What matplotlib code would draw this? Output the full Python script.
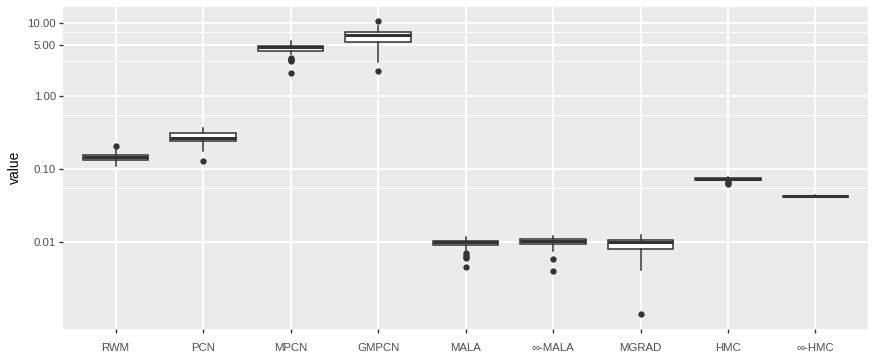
import numpy as np
import matplotlib
matplotlib.use("Agg")
import matplotlib.pyplot as plt

plt.rcParams['font.family'] = ['Liberation Sans', 'DejaVu Sans']

# -----------------------------
# DATA (box statistics)
# -----------------------------
methods = ["RWM", "PCN", "MPCN", "GMPCN", "MALA", "\u221e-MALA", "MGRAD", "HMC", "\u221e-HMC"]
whislo = [0.111, 0.173, 3.73, 2.92, 0.00777, 0.00753, 0.00405, 0.0700, 0.0410]
q1     = [0.134, 0.244, 4.18, 5.55, 0.00890, 0.00919, 0.00785, 0.0712, 0.0417]
median = [0.147, 0.266, 4.64, 6.92, 0.00991, 0.01040, 0.00977, 0.0725, 0.0423]
q3     = [0.154, 0.308, 4.80, 7.47, 0.01022, 0.01090, 0.01055, 0.0737, 0.0430]
whishi = [0.186, 0.365, 5.66, 9.10, 0.01170, 0.01210, 0.01247, 0.0770, 0.0437]
fliers = [
    [0.205],
    [0.127],
    [3.30, 3.20, 3.10, 3.00, 2.05],
    [10.5, 2.18],
    [0.0070, 0.0066, 0.0062, 0.0059, 0.0045],
    [0.0058, 0.00397],
    [0.00102],
    [0.0665, 0.0642, 0.0622],
    [],
]
y_breaks = [0.01, 0.1, 1, 5, 10]
y_labels = ["0.01", "0.10", "1.00", "5.00", "10.00"]
y_minor = [0.055, 0.55, 3.0, 7.5]

# -----------------------------
# PLOT
# -----------------------------
fig = plt.figure(figsize=(8.78, 3.55), dpi=100)
ax = fig.add_axes([0.0718, 0.0741, 0.9886 - 0.0718, 0.981 - 0.0741])
ax.set_facecolor('#EBEBEB')
for s in ax.spines.values():
    s.set_visible(False)

stats = []
for i in range(len(methods)):
    stats.append(dict(med=median[i], q1=q1[i], q3=q3[i],
                      whislo=whislo[i], whishi=whishi[i], fliers=fliers[i]))

pos = np.arange(1, len(methods) + 1)
ax.bxp(stats, positions=pos, widths=0.75, showcaps=False, patch_artist=True,
       boxprops=dict(facecolor='white', edgecolor='#333333', linewidth=1.1),
       whiskerprops=dict(color='#333333', linewidth=1.1),
       medianprops=dict(color='#333333', linewidth=2.2),
       flierprops=dict(marker='o', markerfacecolor='#333333', markeredgecolor='#333333',
                       markersize=3.5, linestyle='none'),
       zorder=3)

ax.set_yscale('log')
allv = np.concatenate([whislo, whishi] + [np.array(f) for f in fliers if len(f)])
lo, hi = np.log10(allv.min()), np.log10(allv.max())
pad = 0.05 * (hi - lo)
ax.set_ylim(10 ** (lo - pad), 10 ** (hi + pad))
ax.set_xlim(0.4, len(methods) + 0.6)

ax.set_yticks(y_breaks)
ax.set_yticklabels(y_labels)
ax.set_yticks(y_minor, minor=True)
ax.yaxis.set_minor_formatter(matplotlib.ticker.NullFormatter())
ax.set_xticks(pos)
ax.set_xticklabels(methods)

ax.grid(True, which='major', color='white', linewidth=1.4, zorder=0)
ax.grid(True, which='minor', axis='y', color='white', linewidth=0.7, zorder=0)
ax.set_axisbelow(True)

ax.tick_params(axis='both', which='major', length=3, width=1.0, color='#333333',
               labelcolor='#4D4D4D', labelsize=8.2, pad=2)
ax.tick_params(axis='y', which='minor', length=0)
ax.tick_params(axis='x', pad=7)

ax.set_ylabel('value', fontsize=10, color='black', labelpad=4)

fig.savefig('out.png', dpi=100)
